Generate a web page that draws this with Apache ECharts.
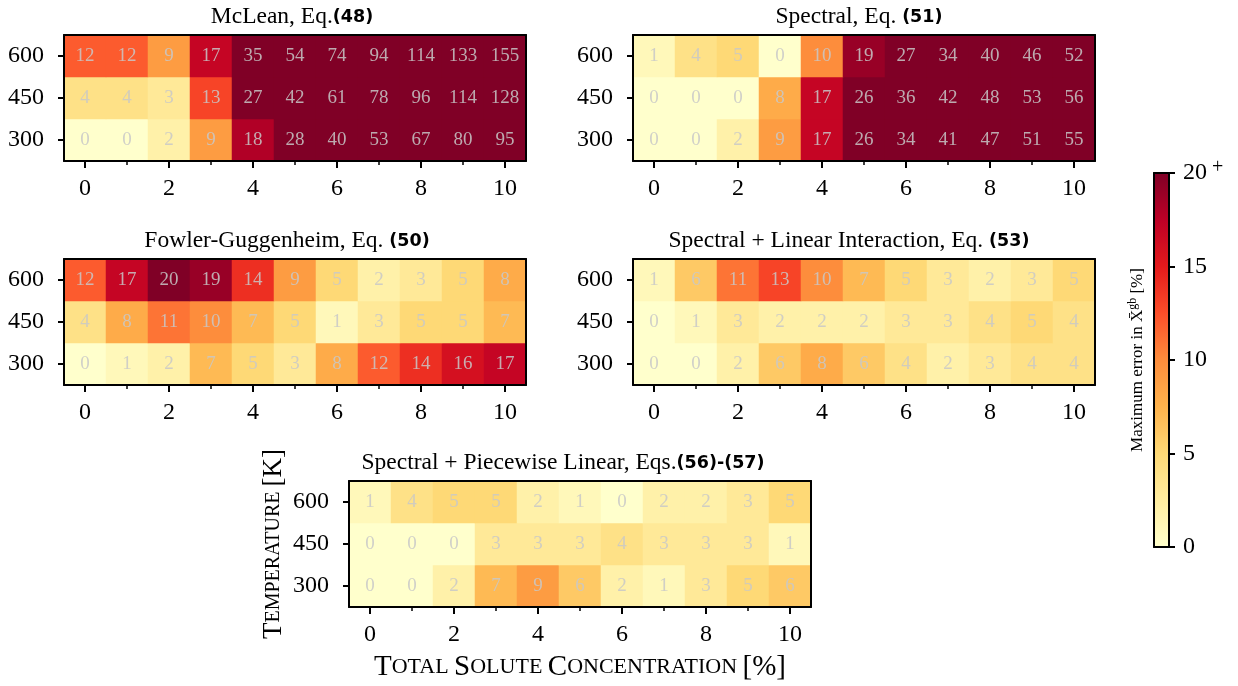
<!DOCTYPE html>
<html>
<head>
<meta charset="utf-8">
<script src="https://cdn.jsdelivr.net/npm/echarts@6/dist/echarts.min.js"></script>
<style>
html,body{margin:0;padding:0;background:#fff;}
#chart{width:1238px;height:686px;}
</style>
</head>
<body>
<div id="chart"></div>
<script>
// ---------- data ----------
const concentrations = ['0','1','2','3','4','5','6','7','8','9','10'];
const temperatures = ['300','450','600'];

const mclean300 = [0,0,2,9,18,28,40,53,67,80,95];
const mclean450 = [4,4,3,13,27,42,61,78,96,114,128];
const mclean600 = [12,12,9,17,35,54,74,94,114,133,155];

const spectral300 = [0,0,2,9,17,26,34,41,47,51,55];
const spectral450 = [0,0,0,8,17,26,36,42,48,53,56];
const spectral600 = [1,4,5,0,10,19,27,34,40,46,52];

const fowler300 = [0,1,2,7,5,3,8,12,14,16,17];
const fowler450 = [4,8,11,10,7,5,1,3,5,5,7];
const fowler600 = [12,17,20,19,14,9,5,2,3,5,8];

const linear300 = [0,0,2,6,8,6,4,2,3,4,4];
const linear450 = [0,1,3,2,2,2,3,3,4,5,4];
const linear600 = [1,6,11,13,10,7,5,3,2,3,5];

const piecewise300 = [0,0,2,7,9,6,2,1,3,5,6];
const piecewise450 = [0,0,0,3,3,3,4,3,3,3,1];
const piecewise600 = [1,4,5,5,2,1,0,2,2,3,5];

const panelTitles = [
  ['McLean, Eq.', '(48)'],
  ['Spectral, Eq. ', '(51)'],
  ['Fowler-Guggenheim, Eq. ', '(50)'],
  ['Spectral + Linear Interaction, Eq. ', '(53)'],
  ['Spectral + Piecewise Linear, Eqs.', '(56)-(57)']
];
const panelRows = [
  [mclean300, mclean450, mclean600],
  [spectral300, spectral450, spectral600],
  [fowler300, fowler450, fowler600],
  [linear300, linear450, linear600],
  [piecewise300, piecewise450, piecewise600]
];
const colorbarMin = 0, colorbarMax = 20, colorbarStep = 5;
const colorbarLabel = 'Maximum error in X\u0304';
const xAxisTitle = ['T','OTAL ','S','OLUTE ','C','ONCENTRATION ','[%]'];
const yAxisTitle = ['T','EMPERATURE ','[K]'];

// ---------- layout / style ----------
const FONT = '"Liberation Serif", "DejaVu Serif", serif';
const ylorrd = ['#ffffcc','#ffeda0','#fed976','#feb24c','#fd8d3c','#fc4e2a','#e31a1c','#bd0026','#800026'];
const layout = [
  {left:64,  top:35,  titleX:287},
  {left:633, top:35,  titleX:854},
  {left:64,  top:259, titleX:282},
  {left:633, top:259, titleX:844},
  {left:349, top:481, titleX:558}
];
const GW = 462, GH = 126;
const cb = {left:1154, top:173, width:15, height:374};
const TICKFS = 24;

const grids = [], xAxes = [], yAxes = [], series = [], titles = [];

layout.forEach((L, i) => {
  grids.push({left:L.left, top:L.top, width:GW, height:GH, containLabel:false});
  const gi = i;
  const xMain = xAxes.length;
  xAxes.push({
    type:'category', gridIndex:gi, data:concentrations, position:'bottom', z:10,
    axisLine:{show:true, lineStyle:{color:'#000', width:2}},
    axisTick:{show:true, interval:1, alignWithLabel:true, length:7, lineStyle:{color:'#000', width:2}},
    axisLabel:{show:true, interval:1, margin:16, color:'#000', fontFamily:FONT, fontSize:TICKFS},
    splitLine:{show:false},
    name: i === 4 ? xAxisTitle.map((s,k)=> k%2===0 ? '{a|'+s+'}' : '{b|'+s+'}').join('') : '',
    nameLocation:'middle', nameGap:46,
    nameTextStyle:{fontFamily:FONT, color:'#000', rich:{
      a:{fontFamily:FONT, fontSize:29, color:'#000'},
      b:{fontFamily:FONT, fontSize:22, color:'#000'}}}
  });
  xAxes.push({
    type:'category', gridIndex:gi, data:concentrations, position:'bottom', z:10,
    axisLine:{show:false},
    axisTick:{show:true, interval:0, alignWithLabel:true, length:4, lineStyle:{color:'#000', width:1.5}},
    axisLabel:{show:false}, splitLine:{show:false}
  });
  xAxes.push({
    type:'category', gridIndex:gi, data:concentrations, position:'top', z:10,
    axisLine:{show:true, lineStyle:{color:'#000', width:2}},
    axisTick:{show:false}, axisLabel:{show:false}, splitLine:{show:false}
  });
  const yMain = yAxes.length;
  yAxes.push({
    type:'category', gridIndex:gi, data:temperatures, position:'left', z:10,
    axisLine:{show:true, lineStyle:{color:'#000', width:2}},
    axisTick:{show:true, alignWithLabel:true, length:6, lineStyle:{color:'#000', width:2}},
    axisLabel:{show:true, margin:20, color:'#000', fontFamily:FONT, fontSize:TICKFS},
    splitLine:{show:false},
    name: i === 4 ? yAxisTitle.map((s,k)=> k===1 ? '{b|'+s+'}' : '{a|'+s+'}').join('') : '',
    nameLocation:'middle', nameGap:62, nameRotate:90,
    nameTextStyle:{fontFamily:FONT, color:'#000', rich:{
      a:{fontFamily:FONT, fontSize:27, color:'#000'},
      b:{fontFamily:FONT, fontSize:20, color:'#000'}}}
  });
  yAxes.push({
    type:'category', gridIndex:gi, data:temperatures, position:'right', z:10,
    axisLine:{show:true, lineStyle:{color:'#000', width:2}},
    axisTick:{show:false}, axisLabel:{show:false}, splitLine:{show:false}
  });
  const data = [];
  panelRows[i].forEach((row, r) => row.forEach((v, c) => data.push([c, r, v])));
  series.push({
    type:'heatmap', xAxisIndex:xMain, yAxisIndex:yMain, data:data,
    label:{show:true, color:'rgba(200,200,200,0.85)', fontFamily:FONT, fontSize:19,
      formatter:p => String(p.value[2])},
    itemStyle:{borderWidth:0},
    emphasis:{disabled:true}
  });
  titles.push({
    text:'{n|'+panelTitles[i][0]+'}{b|'+panelTitles[i][1]+'}',
    left:L.titleX, top:L.top-35, textAlign:'center',
    textStyle:{fontWeight:'normal', rich:{
      n:{fontFamily:FONT, fontWeight:'normal', fontSize:23.5, color:'#000'},
      b:{fontFamily:'"DejaVu Sans", sans-serif', fontWeight:'bold', fontSize:17.5, color:'#000'}}}
  });
});

// colorbar frame + ticks
grids.push({left:cb.left, top:cb.top, width:cb.width, height:cb.height});
const cbg = grids.length-1;
xAxes.push({type:'value', gridIndex:cbg, min:0, max:1, position:'bottom', z:10,
  axisLine:{show:true, onZero:false, lineStyle:{color:'#000', width:2}}, axisTick:{show:false}, axisLabel:{show:false}, splitLine:{show:false}});
xAxes.push({type:'value', gridIndex:cbg, min:0, max:1, position:'top', z:10,
  axisLine:{show:true, onZero:false, lineStyle:{color:'#000', width:2}}, axisTick:{show:false}, axisLabel:{show:false}, splitLine:{show:false}});
yAxes.push({type:'value', gridIndex:cbg, min:colorbarMin, max:colorbarMax, interval:colorbarStep, position:'right', z:10,
  axisLine:{show:true, onZero:false, lineStyle:{color:'#000', width:2}},
  axisTick:{show:true, length:6, lineStyle:{color:'#000', width:2}},
  axisLabel:{show:true, margin:14, color:'#000', fontFamily:FONT, fontSize:TICKFS,
    formatter:v => v === colorbarMax ? '{a|'+v+'}{p| +}' : String(v),
    rich:{a:{fontFamily:FONT, fontSize:TICKFS, color:'#000'}, p:{fontFamily:FONT, fontSize:20, color:'#000', verticalAlign:'top', padding:[0,0,10,0]}}},
  splitLine:{show:false}});
yAxes.push({type:'value', gridIndex:cbg, min:colorbarMin, max:colorbarMax, position:'left', z:10,
  axisLine:{show:true, onZero:false, lineStyle:{color:'#000', width:2}}, axisTick:{show:false}, axisLabel:{show:false}, splitLine:{show:false},
  name:'{t|'+colorbarLabel+'}{s|gb}{t| [%]}', nameLocation:'middle', nameGap:6, nameRotate:90,
  nameTextStyle:{rich:{
    t:{fontFamily:FONT, fontSize:17, color:'#000'},
    s:{fontFamily:FONT, fontSize:12, color:'#000', verticalAlign:'bottom', padding:[0,0,9,0]}}}});

const chart = echarts.init(document.getElementById('chart'), null, {renderer:'canvas'});
chart.setOption({
  animation:false,
  backgroundColor:'#fff',
  title:titles,
  grid:grids,
  xAxis:xAxes,
  yAxis:yAxes,
  visualMap:{
    type:'continuous', min:colorbarMin, max:colorbarMax, calculable:false, show:true,
    seriesIndex:[0,1,2,3,4], orient:'vertical',
    left:cb.left, top:cb.top, itemWidth:cb.width, itemHeight:cb.height, padding:0,
    inRange:{color:ylorrd}, text:null, showLabel:false, hoverLink:false
  },
  series:series
});
</script>
</body>
</html>
